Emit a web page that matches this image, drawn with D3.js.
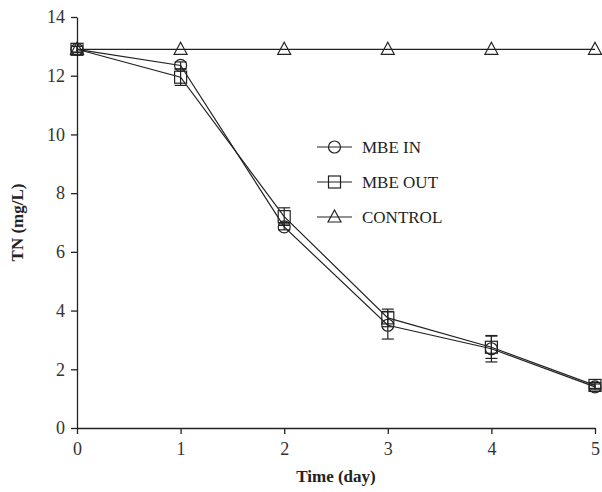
<!DOCTYPE html>
<meta charset="utf-8">
<style>
	body { margin: 0; background: #fff; }
	svg text { font-family: "Liberation Serif", "Times New Roman", serif; }
	.axis path, .axis line { stroke: #222; stroke-width: 1.3; }
	.axis text { font-size: 18px; fill: #333; font-family: "Liberation Serif", "Times New Roman", serif; }
</style>
<script src="https://d3js.org/d3.v7.min.js"></script>
<svg width="602" height="492" class="chart"></svg>
<script>
	var days = [0, 1, 2, 3, 4, 5];
	var mbeIn = [12.9, 12.35, 6.85, 3.5, 2.7, 1.4];
	var mbeInErr = [0.1, 0.12, 0.1, 0.47, 0.45, 0.1];
	var mbeOut = [12.9, 11.95, 7.2, 3.75, 2.75, 1.45];
	var mbeOutErr = [0.1, 0.28, 0.3, 0.3, 0.38, 0.1];
	var control = [12.9, 12.9, 12.9, 12.9, 12.9, 12.9];
	var controlErr = [0, 0, 0, 0, 0, 0];
	var yTicks = [0, 2, 4, 6, 8, 10, 12, 14];
	var legendNames = ["MBE IN", "MBE OUT", "CONTROL"];

	var svg = d3.select(".chart"),
		margin = {top: 17, right: 7, bottom: 64, left: 77},
		width = svg.attr("width") - margin.left - margin.right,
		height = svg.attr("height") - margin.top - margin.bottom;

	var x = d3.scaleLinear().domain([0, 5]).range([0, width]);
	var y = d3.scaleLinear().domain([0, 14]).range([height, 0]);

	var g = svg.append("g")
		.attr("transform", "translate(" + margin.left + "," + margin.top + ")");

	g.append("g")
		.attr("class", "axis")
		.attr("transform", "translate(0," + height + ")")
		.call(d3.axisBottom(x).tickValues(days).tickFormat(d3.format("d")).tickSize(6).tickSizeOuter(0).tickPadding(8));

	g.append("g")
		.attr("class", "axis")
		.call(d3.axisLeft(y).tickValues(yTicks).tickSize(6).tickSizeOuter(0).tickPadding(6));

	g.selectAll(".axis").attr("font-family", null);

	svg.append("text")
		.attr("x", margin.left + width / 2)
		.attr("y", 482)
		.attr("text-anchor", "middle")
		.attr("font-weight", "bold")
		.attr("font-size", "17px")
		.attr("fill", "#222")
		.text("Time (day)");

	svg.append("text")
		.attr("transform", "rotate(-90)")
		.attr("x", -(margin.top + height / 2))
		.attr("y", 23)
		.attr("text-anchor", "middle")
		.attr("font-weight", "bold")
		.attr("font-size", "17px")
		.attr("fill", "#222")
		.text("TN (mg/L)");

	var series = [
		{name: "MBE IN", values: mbeIn, err: mbeInErr, shape: "circle"},
		{name: "MBE OUT", values: mbeOut, err: mbeOutErr, shape: "square"},
		{name: "CONTROL", values: control, err: controlErr, shape: "triangle"}
	];

	function drawMarker(sel, shape) {
		if (shape === "circle") {
			sel.append("circle").attr("r", 6);
		} else if (shape === "square") {
			sel.append("rect").attr("x", -6).attr("y", -6).attr("width", 12).attr("height", 12);
		} else {
			sel.append("path").attr("d", "M0,-7L6.5,5L-6.5,5Z");
		}
		sel.selectAll("*").attr("fill", "none").attr("stroke", "#222").attr("stroke-width", 1.2);
	}

	var line = d3.line()
		.x(function(d, i) { return x(days[i]); })
		.y(function(d) { return y(d); });

	series.forEach(function(s) {
		g.append("path")
			.datum(s.values)
			.attr("fill", "none")
			.attr("stroke", "#222")
			.attr("stroke-width", 1.2)
			.attr("d", line);

		s.values.forEach(function(v, i) {
			if (s.err[i] > 0) {
				var cx = x(days[i]);
				var eb = g.append("g").attr("stroke", "#222").attr("stroke-width", 1.2);
				eb.append("line").attr("x1", cx).attr("x2", cx).attr("y1", y(v + s.err[i])).attr("y2", y(v - s.err[i]));
				eb.append("line").attr("x1", cx - 6).attr("x2", cx + 6).attr("y1", y(v + s.err[i])).attr("y2", y(v + s.err[i]));
				eb.append("line").attr("x1", cx - 6).attr("x2", cx + 6).attr("y1", y(v - s.err[i])).attr("y2", y(v - s.err[i]));
			}
			var m = g.append("g").attr("transform", "translate(" + x(days[i]) + "," + y(v) + ")");
			drawMarker(m, s.shape);
		});
	});

	var legend = svg.append("g").attr("transform", "translate(317,147)");
	legendNames.forEach(function(name, i) {
		var row = legend.append("g").attr("transform", "translate(0," + (i * 35) + ")");
		row.append("line").attr("x1", 0).attr("x2", 35).attr("stroke", "#222").attr("stroke-width", 1.2);
		drawMarker(row.append("g").attr("transform", "translate(17.5,0)"), series[i].shape);
		row.append("text")
			.attr("x", 45)
			.attr("dy", "0.35em")
			.attr("font-size", "17px")
			.attr("fill", "#222")
			.text(name);
	});
</script>
